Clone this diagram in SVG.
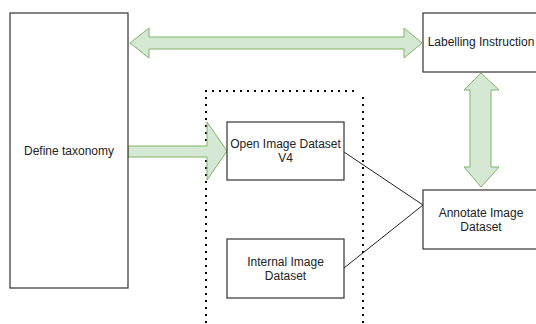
<svg xmlns="http://www.w3.org/2000/svg" width="536" height="324" viewBox="0 0 536 324">
<style>
.box{fill:#ffffff;stroke:#333333;stroke-width:1.2}
.arrow{fill:#d5e8d4;stroke:#82b366;stroke-width:1}
.line{fill:none;stroke:#222222;stroke-width:1}
.dot{fill:none;stroke:#000000;stroke-width:2;stroke-dasharray:2 5}
text{font-family:"Liberation Sans",Arial,sans-serif;font-size:12px;fill:#222222;text-anchor:middle}
</style>
<rect width="536" height="324" fill="#ffffff"/>
<g id="group-border">
<path class="dot" d="M206,330 L206,91 L358,91 M363,97 L363,330"/>
</g>
<g id="connectors">
<path class="arrow" d="M130,43 L149,28 L149,37 L404,37 L404,28 L422,43 L404,58 L404,49 L149,49 L149,58 Z"/>
<path class="arrow" d="M481,73 L499,90 L491,90 L491,167 L499,167 L481,187 L464,167 L470,167 L470,90 L464,90 Z"/>
<path class="arrow" d="M128,146 L207,146 L207,122 L227,151 L207,180 L207,157 L128,157 Z"/>
<path class="line" d="M344,152 L423,205 L344,268"/>
</g>
<g id="define-taxonomy">
<rect class="box" x="10" y="13" width="118" height="275"/>
<text x="69" y="155">Define taxonomy</text>
</g>
<g id="labelling-instruction">
<rect class="box" x="423" y="13" width="117" height="59"/>
<text x="481" y="46">Labelling Instruction</text>
</g>
<g id="open-image-dataset">
<rect class="box" x="227" y="122" width="117" height="58"/>
<text x="285.5" y="148">Open Image Dataset</text>
<text x="285.5" y="162">V4</text>
</g>
<g id="internal-image-dataset">
<rect class="box" x="227" y="239" width="117" height="59"/>
<text x="285.5" y="266">Internal Image</text>
<text x="285.5" y="280">Dataset</text>
</g>
<g id="annotate-image-dataset">
<rect class="box" x="423" y="190" width="117" height="59"/>
<text x="481" y="217">Annotate Image</text>
<text x="481" y="231">Dataset</text>
</g>
</svg>
